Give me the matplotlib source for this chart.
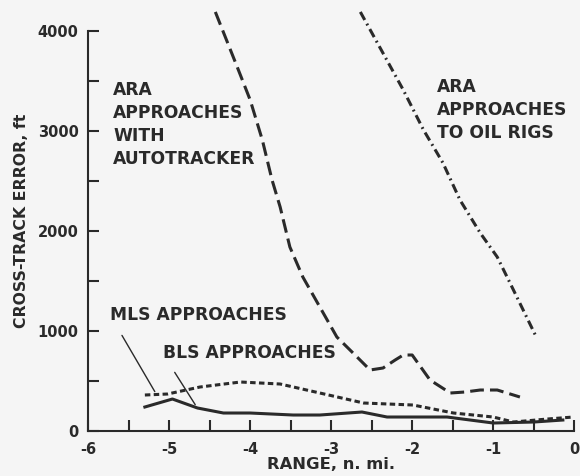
import numpy as np
import matplotlib
matplotlib.use("Agg")
import matplotlib.pyplot as plt

# values (range n.mi., cross-track error ft)
ara_auto_x = [-4.43, -4.16, -4.0, -3.85, -3.73, -3.63, -3.51, -3.35, -3.14, -2.93, -2.73, -2.52,
              -2.36, -2.21, -2.11, -2.0, -1.78, -1.53, -1.35, -1.16, -0.95, -0.67]
ara_auto_y = [4190, 3640, 3310, 2910, 2510, 2240, 1840, 1540, 1240, 940, 780, 610,
              630, 710, 760, 760, 510, 380, 390, 410, 410, 340]

ara_rig_x = [-2.64, -2.11, -1.86, -1.62, -1.41, -1.16, -0.95, -0.75, -0.48]
ara_rig_y = [4190, 3410, 3010, 2680, 2310, 1980, 1740, 1410, 960]

bls_x = [-5.30, -5.02, -4.62, -4.12, -3.63, -3.14, -2.6, -1.99, -1.49, -1.0, -0.75, -0.33, -0.01]
bls_y = [360, 370, 440, 490, 470, 380, 280, 260, 180, 140, 90, 120, 140]

mls_x = [-5.30, -4.96, -4.65, -4.33, -4.0, -3.47, -3.14, -2.62, -2.31, -1.57, -1.0, -0.5, -0.14]
mls_y = [240, 320, 230, 180, 180, 160, 160, 190, 140, 140, 80, 90, 110]

x_ticks = [-6, -5, -4, -3, -2, -1, 0]
x_labels = ["-6", "-5", "-4", "-3", "-2", "-1", "0"]
y_ticks = [0, 1000, 2000, 3000, 4000]

plt.rcParams['font.family'] = ['DejaVu Sans']
ink = "#2a2a2a"

fig = plt.figure(figsize=(5.8, 4.76), dpi=100)
fig.patch.set_facecolor("#f5f5f5")
ax = fig.add_axes([0.152, 0.0945, 0.838, 0.8825])
ax.set_facecolor("#f5f5f5")

lw = 2.2
ax.plot(ara_auto_x, ara_auto_y, color=ink, lw=lw, dashes=(4.5, 2))
ax.plot(ara_rig_x, ara_rig_y, color=ink, lw=lw, dashes=(3, 1.4, 0.6, 1.4))
ax.plot(bls_x, bls_y, color=ink, lw=lw, dashes=(1.8, 1.1))
ax.plot(mls_x, mls_y, color=ink, lw=lw)

ax.set_xlim(-6, 0)
ax.set_ylim(0, 4200)
for s in ["top", "right"]:
    ax.spines[s].set_visible(False)
ax.spines["left"].set_bounds(0, 4000)
for s in ["left", "bottom"]:
    ax.spines[s].set_linewidth(1.5)
    ax.spines[s].set_color(ink)

ax.set_xticks(x_ticks)
ax.set_xticklabels(x_labels)
ax.set_xticks(np.arange(-6, 0.01, 0.5), minor=True)
ax.set_yticks(y_ticks)
ax.set_yticks(np.arange(0, 4001, 500), minor=True)
ax.tick_params(which="both", direction="in", length=8, width=1.5, color=ink,
               labelsize=10.5, labelcolor=ink)
ax.tick_params(axis="x", pad=8)
ax.tick_params(axis="y", pad=7)
for lab in ax.get_xticklabels() + ax.get_yticklabels():
    lab.set_fontweight("bold")

ax.set_xlabel("RANGE, n. mi.", fontsize=11.8, fontweight="bold", color=ink, labelpad=0)
ax.set_ylabel("CROSS-TRACK ERROR, ft", fontsize=11.3, fontweight="bold", color=ink, labelpad=6)

tkw = dict(fontsize=12.3, color=ink, fontweight="bold", linespacing=1.36)
ax.text(-5.69, 3065, "ARA\nAPPROACHES\nWITH\nAUTOTRACKER", va="center", ha="left", **tkw)
ax.text(-1.69, 3210, "ARA\nAPPROACHES\nTO OIL RIGS", va="center", ha="left", **tkw)
ax.text(-5.73, 1160, "MLS APPROACHES", va="center", ha="left", **tkw)
ax.text(-5.07, 780, "BLS APPROACHES", va="center", ha="left", **tkw)

# leader lines
ax.annotate("", xy=(-5.16, 370), xytext=(-5.60, 980),
            arrowprops=dict(arrowstyle="-", color=ink, lw=1.0))
ax.annotate("", xy=(-4.66, 240), xytext=(-4.95, 610),
            arrowprops=dict(arrowstyle="-", color=ink, lw=1.0))

fig.savefig("out.png", dpi=100, facecolor=fig.get_facecolor())
